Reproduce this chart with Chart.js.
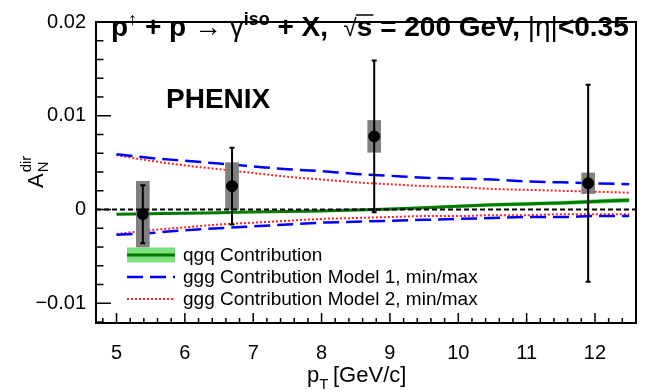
<!DOCTYPE html>
<html>
<head>
<meta charset="utf-8">
<script src="https://cdn.jsdelivr.net/npm/chart.js@4.4.1/dist/chart.umd.min.js"></script>
<style>
  html, body { margin: 0; padding: 0; background: #fff; }
  #wrap { width: 649px; height: 392px; }
</style>
</head>
<body>
<div id="wrap"><canvas id="c" width="649" height="392"></canvas></div>
<script>
// PHENIX data points (pT, A_N, stat, sys)
const ptX = [5.385, 6.69, 8.77, 11.90];
const ptY = [-0.0005, 0.0025, 0.0078, 0.0028];
const ptStat = [0.0031, 0.0041, 0.0081, 0.0105];
const ptSys = [0.0035, 0.0025, 0.0017, 0.0011];

// theory curves
const curveX = [5, 5.5, 6, 6.5, 7, 7.5, 8, 8.5, 9, 9.5, 10, 10.5, 11, 11.5, 12, 12.5];
const qgq = [-0.0005, -0.00045, -0.0004, -0.00033, -0.00027, -0.0002, -0.00015, -0.00005, 0.00005, 0.0002, 0.00035, 0.0005, 0.0006, 0.0007, 0.00085, 0.001];
const qgqErr = [0.00006, 0.00007, 0.00008, 0.00009, 0.0001, 0.00011, 0.00012, 0.00013, 0.00014, 0.00015, 0.00017, 0.00019, 0.0002, 0.00022, 0.00024, 0.00026];
const ggg1Max = [0.0059, 0.0055, 0.0052, 0.0049, 0.0046, 0.0043, 0.0041, 0.0038, 0.0036, 0.0034, 0.0033, 0.0032, 0.003, 0.0029, 0.0028, 0.0027];
const ggg1Min = [-0.0027, -0.0025, -0.0022, -0.002, -0.0018, -0.0016, -0.0014, -0.0013, -0.0012, -0.0011, -0.001, -0.0009, -0.0008, -0.0008, -0.0007, -0.0007];
const ggg2Max = [0.0058, 0.0052, 0.0047, 0.0043, 0.0039, 0.0035, 0.0032, 0.0029, 0.0027, 0.0025, 0.0024, 0.0022, 0.0021, 0.002, 0.0019, 0.0018];
const ggg2Min = [-0.0026, -0.0022, -0.0019, -0.0016, -0.0014, -0.0012, -0.001, -0.0009, -0.0008, -0.0007, -0.0007, -0.0006, -0.0006, -0.0005, -0.0005, -0.0005];

const xTicks = [5, 6, 7, 8, 9, 10, 11, 12];
const yTicks = [-0.01, 0, 0.01, 0.02];
const xRange = [4.7, 12.6];
const yRange = [-0.0121, 0.02];

const legendLabels = ['qgq Contribution', 'ggg Contribution Model 1, min/max', 'ggg Contribution Model 2, min/max'];

const FONT = '"Liberation Sans", Arial, Helvetica, sans-serif';
Chart.defaults.font.family = FONT;
Chart.defaults.color = '#000';

const pairs = (ys) => curveX.map((x, i) => ({ x: x, y: ys[i] }));

const BLUE = '#0000ff';
const RED = '#ff2020';
const DKGREEN = '#007a00';
const LTGREEN = '#7fe07f';

// draws text pieces with sub/superscripts, returns end x
function drawRich(ctx, parts, x, y) {
  parts.forEach(p => {
    ctx.font = p.font;
    ctx.fillText(p.t, x, y + (p.dy || 0));
    const w = ctx.measureText(p.t).width;
    if (p.over) {
      ctx.lineWidth = 1.5;
      ctx.beginPath();
      ctx.moveTo(x - 1, y - 21);
      ctx.lineTo(x + w + 1, y - 21);
      ctx.stroke();
    }
    x += w + (p.gap || 0);
  });
  return x;
}

const decorations = {
  id: 'decorations',
  afterDatasetsDraw(chart) {
    const ctx = chart.ctx;
    const xs = chart.scales.x, ys = chart.scales.y;
    const a = chart.chartArea;
    ctx.save();

    // error bars
    ctx.strokeStyle = '#000';
    ctx.lineWidth = 2;
    ptX.forEach((x, i) => {
      const px = xs.getPixelForValue(x);
      const y1 = ys.getPixelForValue(ptY[i] + ptStat[i]);
      const y2 = ys.getPixelForValue(ptY[i] - ptStat[i]);
      ctx.beginPath();
      ctx.moveTo(px, y1); ctx.lineTo(px, y2);
      ctx.moveTo(px - 2.5, y1); ctx.lineTo(px + 2.5, y1);
      ctx.moveTo(px - 2.5, y2); ctx.lineTo(px + 2.5, y2);
      ctx.stroke();
    });

    // frame
    ctx.lineWidth = 2;
    ctx.strokeRect(a.left, a.top, a.right - a.left, a.bottom - a.top);

    // inward ticks
    ctx.lineWidth = 1.5;
    ctx.beginPath();
    for (let i = -6; i <= 10; i++) {
      const v = i * 0.002;
      if (v < yRange[0] || v > yRange[1]) continue;
      const py = ys.getPixelForValue(v);
      const len = (i % 5 === 0) ? 15 : 7.5;
      ctx.moveTo(a.left, py); ctx.lineTo(a.left + len, py);
    }
    for (let k = 0; k <= 40; k++) {
      const v = 4.8 + k * 0.2;
      if (v > xRange[1]) break;
      const px = xs.getPixelForValue(v);
      const major = Math.abs(v - Math.round(v)) < 1e-6;
      const len = major ? 10 : 5;
      ctx.moveTo(px, a.bottom); ctx.lineTo(px, a.bottom - len);
    }
    ctx.stroke();

    // title inside the frame
    ctx.fillStyle = '#000';
    ctx.strokeStyle = '#000';
    ctx.textBaseline = 'alphabetic';
    ctx.textAlign = 'left';
    const B = 'bold 28px ' + FONT;
    const N = '28px ' + FONT;
    const S = 'bold 18px ' + FONT;
    drawRich(ctx, [
      { t: 'p', font: B },
      { t: '\u2191', font: '18px ' + FONT, dy: -11 },
      { t: ' + p ', font: B },
      { t: '\u2192', font: N },
      { t: ' \u03b3', font: N },
      { t: 'iso', font: S, dy: -11 },
      { t: ' + X,  ', font: B },
      { t: '\u221a', font: '24px ' + FONT },
      { t: 's', font: B, over: true },
      { t: ' = 200 GeV, ', font: B },
      { t: '|\u03b7|', font: N },
      { t: '<0.35', font: B }
    ], 111, 36);

    ctx.font = 'bold 28px ' + FONT;
    ctx.fillText('PHENIX', 166, 108);

    // legend
    const lx = 127, lw = 48, tx = 183;
    const rows = [255, 277, 299];
    ctx.font = '19px ' + FONT;
    ctx.textBaseline = 'middle';
    legendLabels.forEach((t, i) => ctx.fillText(t, tx, rows[i] + 1));
    ctx.fillStyle = LTGREEN;
    ctx.fillRect(lx, rows[0] - 7.5, lw, 15);
    ctx.lineWidth = 3;
    ctx.strokeStyle = DKGREEN;
    ctx.beginPath(); ctx.moveTo(lx, rows[0]); ctx.lineTo(lx + lw, rows[0]); ctx.stroke();
    ctx.lineWidth = 2.5;
    ctx.strokeStyle = BLUE;
    ctx.setLineDash([16, 7]);
    ctx.beginPath(); ctx.moveTo(lx, rows[1]); ctx.lineTo(lx + lw, rows[1]); ctx.stroke();
    ctx.lineWidth = 2;
    ctx.strokeStyle = RED;
    ctx.setLineDash([2, 2]);
    ctx.beginPath(); ctx.moveTo(lx, rows[2]); ctx.lineTo(lx + lw, rows[2]); ctx.stroke();
    ctx.setLineDash([]);

    // axis titles
    ctx.fillStyle = '#000';
    ctx.textBaseline = 'alphabetic';
    let x = drawRich(ctx, [{ t: 'p', font: '22px ' + FONT }], 307, 382);
    drawRich(ctx, [{ t: 'T', font: '15px ' + FONT, dy: 7 }], x, 382);
    ctx.font = '22px ' + FONT;
    ctx.fillText('[GeV/c]', 333, 382);

    ctx.translate(43, 188);
    ctx.rotate(-Math.PI / 2);
    ctx.font = '22px ' + FONT;
    ctx.fillText('A', 0, 0);
    const aw = ctx.measureText('A').width;
    ctx.font = '15px ' + FONT;
    ctx.fillText('N', aw + 1, 5);
    ctx.fillText('dir', aw + 1, -12);
    ctx.restore();
  }
};

new Chart(document.getElementById('c'), {
  type: 'scatter',
  data: {
    datasets: [
      { type: 'line', label: 'qgqLo', data: pairs(qgq.map((v, i) => v - qgqErr[i])), borderWidth: 0, pointRadius: 0, borderColor: 'rgba(0,0,0,0)', fill: false, order: 8 },
      { type: 'line', label: 'qgqHi', data: pairs(qgq.map((v, i) => v + qgqErr[i])), borderWidth: 0, pointRadius: 0, borderColor: 'rgba(0,0,0,0)', backgroundColor: LTGREEN, fill: '-1', order: 8 },
      { type: 'line', label: 'ggg2Max', data: pairs(ggg2Max), borderColor: RED, borderWidth: 2, borderDash: [2, 2], pointRadius: 0, cubicInterpolationMode: 'monotone', order: 6 },
      { type: 'line', label: 'ggg2Min', data: pairs(ggg2Min), borderColor: RED, borderWidth: 2, borderDash: [2, 2], pointRadius: 0, cubicInterpolationMode: 'monotone', order: 6 },
      { type: 'line', label: 'ggg1Max', data: pairs(ggg1Max), borderColor: BLUE, borderWidth: 2.5, borderDash: [16, 7], pointRadius: 0, cubicInterpolationMode: 'monotone', order: 5 },
      { type: 'line', label: 'ggg1Min', data: pairs(ggg1Min), borderColor: BLUE, borderWidth: 2.5, borderDash: [16, 7], pointRadius: 0, cubicInterpolationMode: 'monotone', order: 5 },
      { type: 'line', label: 'qgq', data: pairs(qgq), borderColor: DKGREEN, borderWidth: 3, pointRadius: 0, cubicInterpolationMode: 'monotone', order: 4 },
      { type: 'bar', label: 'sys', data: ptX.map((x, i) => ({ x: x, y: [ptY[i] - ptSys[i], ptY[i] + ptSys[i]] })), backgroundColor: '#808080', barThickness: 13, grouped: false, order: 3 },
      { type: 'line', label: 'zero', data: [{ x: xRange[0], y: 0 }, { x: xRange[1], y: 0 }], borderColor: '#000', borderWidth: 2, borderDash: [5, 3], pointRadius: 0, order: 2 },
      { type: 'scatter', label: 'PHENIX', data: ptX.map((x, i) => ({ x: x, y: ptY[i] })), pointRadius: 5.5, pointBackgroundColor: '#000', pointBorderColor: '#000', order: 1 }
    ]
  },
  options: {
    responsive: false,
    animation: false,
    devicePixelRatio: 1,
    layout: { padding: { left: 0, top: 15, right: 13, bottom: 0 } },
    plugins: { legend: { display: false }, tooltip: { enabled: false } },
    scales: {
      x: {
        type: 'linear', min: xRange[0], max: xRange[1], offset: false,
        grid: { display: false, drawTicks: false, offset: false }, border: { display: false },
        afterBuildTicks: s => { s.ticks = xTicks.map(v => ({ value: v })); },
        afterFit: s => { s.height = 69; },
        ticks: { font: { size: 20 }, padding: 18, maxRotation: 0, callback: v => String(v) }
      },
      y: {
        type: 'linear', min: yRange[0], max: yRange[1],
        grid: { display: false, drawTicks: false }, border: { display: false },
        afterBuildTicks: s => { s.ticks = yTicks.map(v => ({ value: v })); },
        afterFit: s => { s.width = 96; },
        ticks: { font: { size: 20 }, padding: 10, callback: v => v === 0 ? '0' : (v < 0 ? '\u2212' : '') + Math.abs(v).toFixed(2) }
      }
    }
  },
  plugins: [decorations]
});
</script>
</body>
</html>
